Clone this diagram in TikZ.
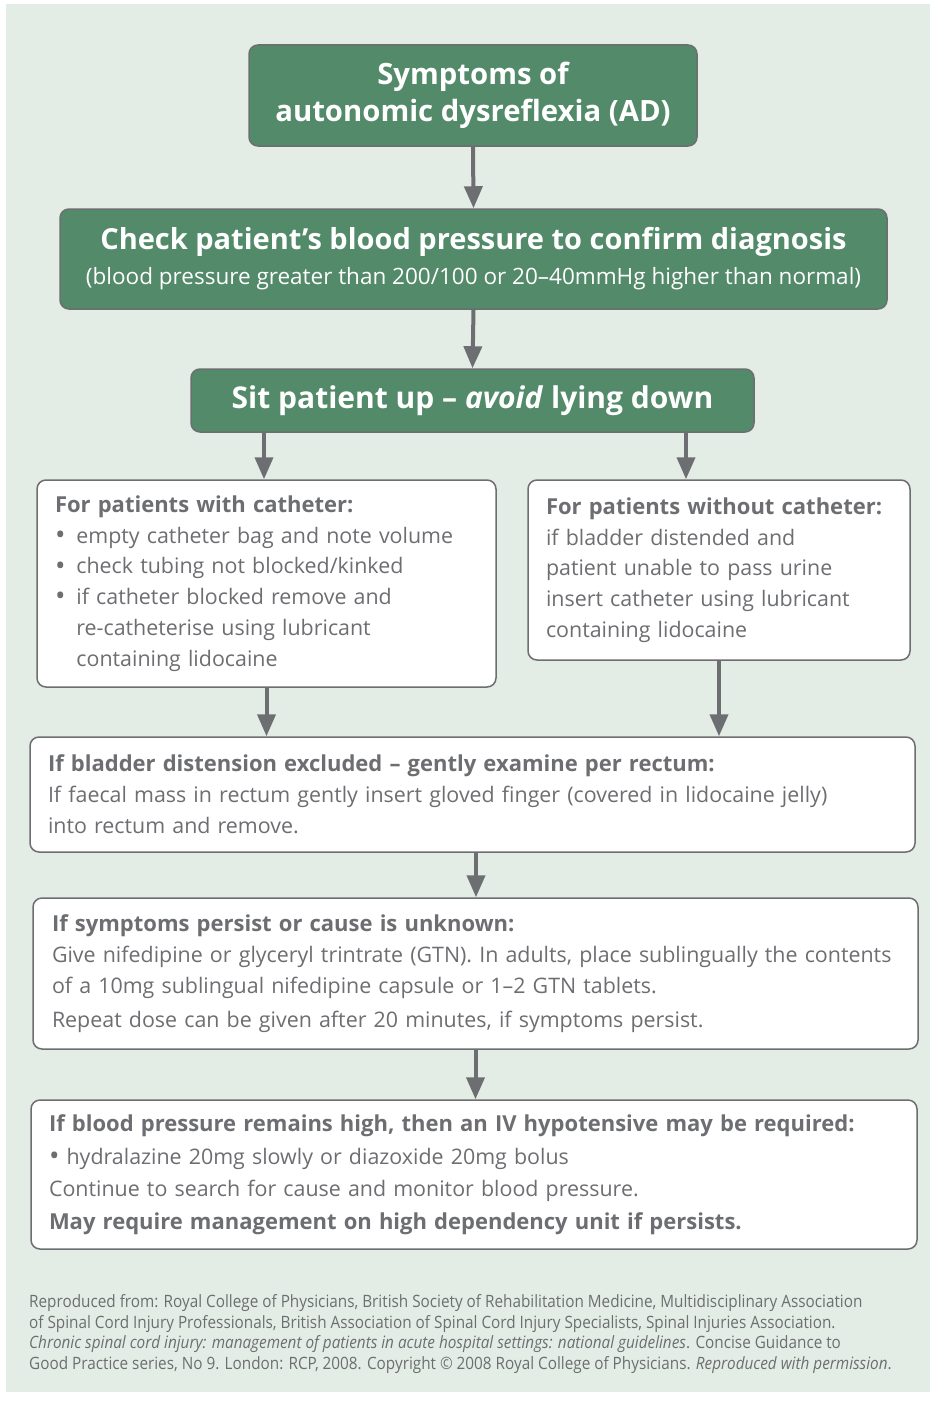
\documentclass[tikz,border=0pt]{standalone}
\usepackage{fontspec}
\setmainfont{Open Sans}
\newfontfamily\narrowfont[FakeStretch=0.90]{Open Sans}
\usetikzlibrary{arrows.meta}

\definecolor{panelbg}{HTML}{E3EDE5}
\definecolor{boxgreen}{HTML}{528A6A}
\definecolor{linegrey}{HTML}{6D6E71}

\newcommand{\bul}{\makebox[1em][l]{\raisebox{-0.05em}{\scalebox{1.3}{•}}}}
\newcommand{\hd}[1]{{\fontsize{22}{30}\selectfont\bfseries #1}}

\begin{document}
\begin{tikzpicture}[x=1pt, y=-1pt,
    greenbox/.style={draw=linegrey, line width=1.5pt, fill=boxgreen, rounded corners=9pt,
        text=white, font=\bfseries, align=center, inner sep=0pt},
    whitebox/.style={draw=linegrey, line width=1.5pt, fill=white, rounded corners=9pt,
        text=linegrey, align=left, inner sep=0pt},
    flow/.style={draw=linegrey, line width=4pt, -{Triangle[width=18pt,length=22pt]}},
    ]
    \useasboundingbox (0,0) rectangle (933,1402);
    \fill [panelbg] (6,4) rectangle (930,1392);

    % green steps
    \node [greenbox, minimum width=448pt, minimum height=101pt,
        font=\fontsize{29.3}{37}\selectfont\bfseries] (symptoms) at (473,95.5)
        {Symptoms of\\autonomic dysreflexia (AD)};
    \node [greenbox, minimum width=827pt, minimum height=100pt] (checkbp) at (473.5,259)
        {{\fontsize{29}{30}\selectfont Check patient’s blood pressure to confirm diagnosis}\\[10pt]
         {\fontsize{22.5}{24}\selectfont\mdseries (blood pressure greater than 200/100 or 20--40mmHg higher than normal)}};
    \node [greenbox, minimum width=563pt, minimum height=63pt,
        font=\fontsize{30}{30}\selectfont\bfseries] (situp) at (472.5,400.5)
        {Sit patient up -- \textit{avoid} lying down};

    % white steps
    \node [whitebox, minimum width=459pt, minimum height=207pt, text width=423pt,
        font=\fontsize{21.4}{30.7}\selectfont] (withcath) at (266.5,583.5)
        {\hd{For patients with catheter:}\\
         \bul empty catheter bag and note volume\\
         \bul check tubing not blocked/kinked\\
         \bul if catheter blocked remove and\\
         \hspace*{1em}re-catheterise using lubricant\\
         \hspace*{1em}containing lidocaine};
    \node [whitebox, minimum width=382pt, minimum height=180pt, text width=346pt,
        font=\fontsize{21.4}{30.7}\selectfont] (nocath) at (719,570)
        {\hd{For patients without catheter:}\\
         if bladder distended and\\
         patient unable to pass urine\\
         insert catheter using lubricant\\
         containing lidocaine};
    \node [whitebox, minimum width=885pt, minimum height=115pt, text width=849pt,
        font=\fontsize{21.4}{31}\selectfont] (rectum) at (472.5,794.5)
        {\hd{If bladder distension excluded -- gently examine per rectum:}\\
         If faecal mass in rectum gently insert gloved finger (covered in lidocaine jelly)\\
         into rectum and remove.};
    \node [whitebox, minimum width=885pt, minimum height=151pt, text width=847pt,
        font=\fontsize{21.4}{31}\selectfont] (persist) at (475.5,973.5)
        {\hd{If symptoms persist or cause is unknown:}\\
         Give nifedipine or glyceryl trintrate (GTN). In adults, place sublingually the contents\\
         of a 10mg sublingual nifedipine capsule or 1--2 GTN tablets.\\[3pt]
         Repeat dose can be given after 20 minutes, if symptoms persist.};
    \node [whitebox, minimum width=886pt, minimum height=149pt, text width=850pt,
        font=\fontsize{21.4}{32.5}\selectfont] (stillhigh) at (474,1174.5)
        {\hd{If blood pressure remains high, then an IV hypotensive may be required:}\\
         \raisebox{-0.05em}{\scalebox{1.3}{•}} hydralazine 20mg slowly or diazoxide 20mg bolus\\
         Continue to search for cause and monitor blood pressure.\\
         \hd{May require management on high dependency unit if persists.}};

    % source line
    \node [anchor=west, align=left, inner sep=0pt, text=linegrey,
        font=\narrowfont\fontsize{17}{20.6}\selectfont] (credit) at (29,1334)
        {Reproduced from: Royal College of Physicians, British Society of Rehabilitation Medicine, Multidisciplinary Association\\
         of Spinal Cord Injury Professionals, British Association of Spinal Cord Injury Specialists, Spinal Injuries Association.\\
         \textit{Chronic spinal cord injury: management of patients in acute hospital settings: national guidelines}. Concise Guidance to\\
         Good Practice series, No 9. London: RCP, 2008. Copyright © 2008 Royal College of Physicians. \textit{Reproduced with permission}.};

    % arrows
    \draw [flow] (symptoms.south) -- (checkbp.north);
    \draw [flow] (checkbp.south) -- (situp.north);
    \draw [flow] ([xshift=-208.5pt]situp.south) coordinate (sl) -- (sl |- withcath.north);
    \draw [flow] ([xshift=213.5pt]situp.south) coordinate (sr) -- (sr |- nocath.north);
    \draw [flow] (withcath.south) -- (withcath.south |- rectum.north);
    \draw [flow] (nocath.south) -- (nocath.south |- rectum.north);
    \draw [flow] ([xshift=3.5pt]rectum.south) coordinate (rc) -- (rc |- persist.north);
    \draw [flow] (persist.south) -- (persist.south |- stillhigh.north);
\end{tikzpicture}
\end{document}
